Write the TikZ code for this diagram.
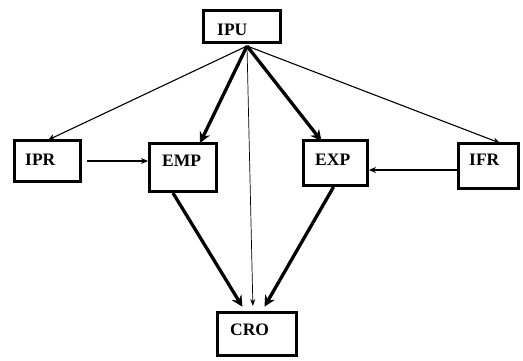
\documentclass[tikz,border=0pt]{standalone}
\usepackage{fontspec}
\setmainfont{Liberation Serif}
\usetikzlibrary{arrows.meta,calc}
\begin{document}
\begin{tikzpicture}[x=1pt,y=-1pt,
  box/.style={draw,line width=3pt,minimum width=#1,inner sep=0pt},
  lbl/.style={anchor=base west,inner sep=0pt,font=\fontsize{17.5}{18}\selectfont\bfseries},
  thin/.style={line width=1.1pt,-{Stealth[length=7pt,width=6pt]}},
  hair/.style={line width=0.7pt,-{Stealth[length=7pt,width=5pt]}},
  thick/.style={line width=3.3pt,-{Stealth[length=11pt,width=11pt]}}]
\useasboundingbox (0,0) rectangle (523,360);
% boxes
\node[box=77pt,minimum height=32pt] (ipu) at (242,26.5) {};
\node[box=66pt,minimum height=41pt] (ipr) at (47.5,161) {};
\node[box=67pt,minimum height=48pt] (emp) at (183,167.5) {};
\node[box=64pt,minimum height=45pt] (exp) at (335.5,163) {};
\node[box=60pt,minimum height=45pt] (ifr) at (488.5,166) {};
\node[box=79pt,minimum height=43pt] (cro) at (257,334) {};
% labels
\node[lbl] (ipuT) at (217,35) {IPU};
\node[lbl] (iprT) at (25,165) {IPR};
\node[lbl] (empT) at (162,166) {EMP};
\node[lbl] (expT) at (315,165) {EXP};
\node[lbl] (ifrT) at (469,165) {IFR};
\node[lbl] (croT) at (230,335) {CRO};
% origin point below IPU
\coordinate (o) at (247,46);
% connectors
\draw[thin] (o) -- ([xshift=0.5pt,yshift=-1pt]ipr.north);
\draw[thin] (o) -- ([xshift=11.5pt,yshift=-1pt]ifr.north);
\draw[hair,shorten >=5pt] (o) -- ([xshift=-4pt]cro.north);
\draw[thick] (o) -- ([xshift=17pt,yshift=-1pt]emp.north);
\draw[thick] (o) -- ([xshift=-14pt,yshift=-2pt]exp.north);
\draw[thin,shorten <=5pt] (ipr.east) -- (ipr.east -| emp.west);
\draw[thin] ([yshift=-4pt]ifr.west) -- ([yshift=-4pt]ifr.west -| exp.east);
\draw[thick,shorten >=5pt] ([xshift=-10pt]emp.south) -- ([xshift=-12pt]cro.north);
\draw[thick,shorten >=5pt] ([xshift=-2pt]exp.south) -- ([xshift=5pt]cro.north);
\end{tikzpicture}
\end{document}
